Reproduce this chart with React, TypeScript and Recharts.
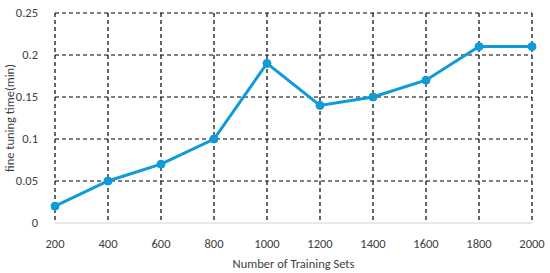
import React from 'react';
import {
  LineChart,
  Line,
  XAxis,
  YAxis,
  CartesianGrid,
  Label,
} from 'recharts';

const trainingSets = [200, 400, 600, 800, 1000, 1200, 1400, 1600, 1800, 2000];
const tuningTime = [0.02, 0.05, 0.07, 0.1, 0.19, 0.14, 0.15, 0.17, 0.21, 0.21];
const yTicks = [0, 0.05, 0.1, 0.15, 0.2, 0.25];
const gridValues = [0.05, 0.1, 0.15, 0.2, 0.25];

const chartData = trainingSets.map((sets, i) => ({ sets, time: tuningTime[i] }));

const font = "Carlito, 'Liberation Sans Narrow', 'Noto Sans', sans-serif";
const textColor = '#404040';
const tickStyle = { fontSize: 12.5, fill: textColor, fontFamily: font };

const App: React.FC = () => {
  return (
    <div style={{ position: 'absolute', left: 0, top: 0, background: '#fff' }}>
      <LineChart
        width={550}
        height={273}
        data={chartData}
        margin={{ top: 13, right: 18, left: 0, bottom: 0 }}
      >
        <CartesianGrid
          stroke="#000"
          strokeWidth={1.2}
          strokeDasharray="4 3"
          horizontalValues={gridValues}
          verticalValues={trainingSets}
        />
        <XAxis
          dataKey="sets"
          type="number"
          domain={[200, 2000]}
          ticks={trainingSets}
          height={50}
          axisLine={{ stroke: '#d0d0d0' }}
          tickLine={false}
          tick={tickStyle}
          tickMargin={10}
        >
          <Label
            value="Number of Training Sets"
            position="insideBottom"
            offset={5}
            style={{ fontSize: 12.5, fill: textColor, fontFamily: font }}
          />
        </XAxis>
        <YAxis
          type="number"
          domain={[0, 0.25]}
          ticks={yTicks}
          width={55}
          axisLine={false}
          tickLine={false}
          tick={tickStyle}
          tickMargin={11}
        >
          <Label
            value="fine tuning time(min)"
            angle={-90}
            position="insideLeft"
            offset={10}
            style={{ fontSize: 12.5, fill: textColor, fontFamily: font, textAnchor: 'middle' }}
          />
        </YAxis>
        <Line
          type="linear"
          dataKey="time"
          stroke="#0f9ad8"
          strokeWidth={3}
          dot={{ r: 4, fill: '#0f9ad8', stroke: '#0f9ad8', strokeWidth: 1 }}
          isAnimationActive={false}
        />
      </LineChart>
    </div>
  );
};

export default App;
